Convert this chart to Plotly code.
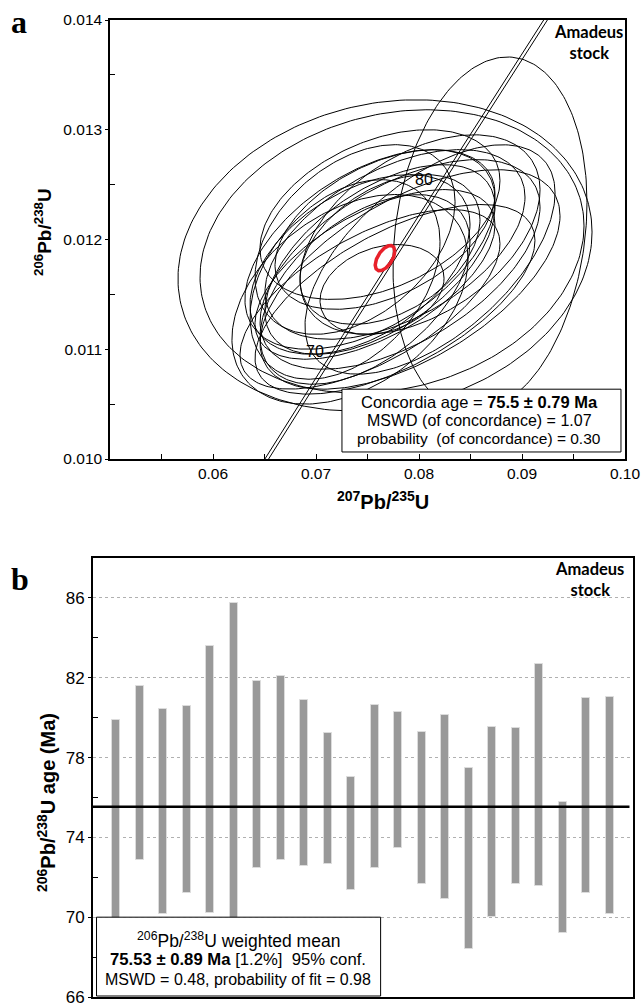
import numpy as np
import plotly.graph_objects as go

# ---------------- Panel a: concordia data (2-sigma error ellipses) ----------------
ell_x   = [0.07670, 0.07738, 0.08689, 0.07330, 0.07524, 0.07621, 0.07427, 0.07767, 0.07573, 0.07816, 0.07379,
           0.07670, 0.07913, 0.07476, 0.07718, 0.08010, 0.07282, 0.07621, 0.08107, 0.07524, 0.07641, 0.07767]
ell_sx  = [0.02010, 0.01864, 0.00942, 0.01146, 0.01214, 0.01117, 0.01068, 0.01262, 0.01165, 0.01359, 0.00971,
           0.01068, 0.01456, 0.01019, 0.00874, 0.01165, 0.00922, 0.01165, 0.01214, 0.01262, 0.00602, 0.01359]
ell_y   = [0.011855, 0.011891, 0.012045, 0.011455, 0.011909, 0.011818, 0.011773, 0.011955, 0.011682, 0.011773, 0.012000,
           0.012091, 0.011636, 0.011545, 0.011909, 0.012045, 0.011636, 0.012227, 0.011818, 0.011455, 0.011545, 0.011455]
ell_sy  = [0.001418, 0.001291, 0.001618, 0.000955, 0.000909, 0.000864, 0.000818, 0.000864, 0.000773, 0.000955, 0.000864,
           0.000727, 0.001000, 0.000864, 0.000682, 0.000909, 0.000909, 0.000773, 0.001045, 0.000818, 0.000409, 0.000864]
ell_rho = [0.15, 0.18, 0.18, 0.38, 0.50, 0.55, 0.45, 0.50, 0.58, 0.55, 0.40,
           0.45, 0.58, 0.50, 0.40, 0.45, 0.38, 0.40, 0.58, 0.62, 0.25, 0.62]

conc_x, conc_sx = 0.0767, 0.00095
conc_y, conc_sy = 0.01183, 0.000115
conc_rho = 0.55

lambda238 = 1.55125e-10
lambda235 = 9.8485e-10
concordia_age_span_ma = [62, 92]
concordia_band_dx = 0.00018
age_marks_ma = [70, 80]

# ---------------- Panel b: 206Pb/238U ages (Ma) ----------------
grain = list(range(1, 23))
age_low  = [69.6, 72.87, 70.18, 71.23, 70.20, 69.8, 72.48, 72.88, 72.58, 72.65, 71.36,
            72.45, 73.45, 71.65, 70.91, 68.42, 70.03, 71.66, 71.56, 69.22, 71.23, 70.16]
age_high = [79.90, 81.60, 80.45, 80.60, 83.60, 85.73, 81.85, 82.10, 80.89, 79.22, 77.04,
            80.64, 80.27, 79.28, 80.12, 77.46, 79.55, 79.48, 82.69, 75.76, 80.97, 81.05]
weighted_mean = 75.53


def ellipse(cx, cy, sx, sy, rho, n=240):
    t = np.linspace(0, 2 * np.pi, n)
    x = cx + sx * np.cos(t)
    y = cy + sy * (rho * np.cos(t) + np.sqrt(1 - rho ** 2) * np.sin(t))
    return x, y


fig = go.Figure()

# ellipses
ex, ey = [], []
for cx, sx, cy, sy, r in zip(ell_x, ell_sx, ell_y, ell_sy, ell_rho):
    x, y = ellipse(cx, cy, sx, sy, r)
    ex += list(x) + [None]
    ey += list(y) + [None]
fig.add_trace(go.Scatter(x=ex, y=ey, mode="lines", line=dict(color="black", width=1),
                         hoverinfo="skip", xaxis="x", yaxis="y"))

# concordia curve (double line)
ages = np.linspace(concordia_age_span_ma[0], concordia_age_span_ma[1], 300) * 1e6
cx_curve = np.exp(lambda235 * ages) - 1
cy_curve = np.exp(lambda238 * ages) - 1
for s in (-1, 1):
    fig.add_trace(go.Scatter(x=cx_curve + s * concordia_band_dx, y=cy_curve, mode="lines",
                             line=dict(color="black", width=1), hoverinfo="skip",
                             xaxis="x", yaxis="y"))

# concordia age ellipse (red)
rx, ry = ellipse(conc_x, conc_y, conc_sx, conc_sy, conc_rho)
fig.add_trace(go.Scatter(x=rx, y=ry, mode="lines", line=dict(color="#e8202a", width=3.5),
                         hoverinfo="skip", xaxis="x", yaxis="y"))

# ---------------- Panel b traces ----------------
lo = np.array(age_low)
hi = np.array(age_high)
fig.add_trace(go.Bar(x=grain, y=hi - lo, base=lo, width=0.34,
                     marker=dict(color="#999999", line=dict(color="#dcdcdc", width=1)),
                     xaxis="x2", yaxis="y2", hoverinfo="skip"))
fig.add_trace(go.Scatter(x=[0, 22.85], y=[weighted_mean, weighted_mean], mode="lines",
                         line=dict(color="black", width=2.5), xaxis="x2", yaxis="y2",
                         hoverinfo="skip"))

W, H = 642, 1006
tick_font_a = dict(family="Liberation Sans, Arial", size=15.5, color="black")
tick_font_b = dict(family="Liberation Sans, Arial", size=17, color="black")

fig.update_layout(
    width=W, height=H, margin=dict(l=0, r=0, t=0, b=0, pad=0, autoexpand=False),
    paper_bgcolor="white", plot_bgcolor="white", showlegend=False,
    xaxis=dict(domain=[110 / W, 625 / W], range=[0.05, 0.10], anchor="y", automargin=False,
               showline=True, linecolor="black", linewidth=1.5, mirror=True,
               showgrid=False, zeroline=False, ticklabeloverflow="allow",
               tickvals=[0.06, 0.07, 0.08, 0.09, 0.10], tickformat=".2f",
               ticks="inside", ticklen=5, tickcolor="black", tickfont=tick_font_a,
               minor=dict(tickvals=[0.055, 0.065, 0.075, 0.085, 0.095], ticks="inside",
                          ticklen=5, tickcolor="black", showgrid=False)),
    yaxis=dict(domain=[1 - 459 / H, 1 - 20 / H], range=[0.010, 0.014], anchor="x", automargin=False,
               showline=True, linecolor="black", linewidth=1.5, mirror=True,
               showgrid=False, zeroline=False, ticklabeloverflow="allow",
               tickvals=[0.010, 0.011, 0.012, 0.013, 0.014], tickformat=".3f",
               ticks="outside", ticklen=3, tickcolor="black", tickfont=tick_font_a,
               minor=dict(tickvals=[0.0105, 0.0115, 0.0125, 0.0135], ticks="inside",
                          ticklen=5, tickcolor="black", showgrid=False)),
    xaxis2=dict(domain=[93 / W, 633 / W], range=[0, 23], anchor="y2", automargin=False,
                showline=True, linecolor="black", linewidth=2, mirror=True,
                showgrid=False, zeroline=False, showticklabels=False, ticks=""),
    yaxis2=dict(domain=[1 - 997 / H, 1 - 558 / H], range=[66, 88], anchor="x2", automargin=False,
                showline=True, linecolor="black", linewidth=2, mirror=True,
                zeroline=False, tickvals=[66, 70, 74, 78, 82, 86], ticklabeloverflow="allow",
                showgrid=True, gridcolor="#b0b0b0", griddash="dot", gridwidth=1,
                ticks="outside", ticklen=3, tickcolor="black", tickfont=tick_font_b,
                minor=dict(tickvals=[68, 72, 76, 80, 84], ticks="inside", ticklen=5,
                           tickcolor="black", showgrid=False)),
    bargap=0,
)

# boxes
fig.add_shape(type="rect", xref="x", yref="y", x0=0.07252, x1=0.09961, y0=0.010064, y1=0.010636,
              line=dict(color="black", width=1), fillcolor="white", layer="above")
fig.add_shape(type="rect", xref="x2", yref="y2", x0=0.15, x1=12.25, y0=66.05, y1=70.0,
              line=dict(color="black", width=1), fillcolor="white", layer="above")

ann = []
sans = "Liberation Sans, Arial"
# panel letters
ann.append(dict(text="<b>a</b>", xref="paper", yref="paper", x=9 / W, y=1 - 22 / H,
                xanchor="left", yanchor="middle", showarrow=False,
                font=dict(family="Liberation Serif, Times New Roman", size=32, color="black")))
ann.append(dict(text="<b>b</b>", xref="paper", yref="paper", x=9 / W, y=1 - 579 / H,
                xanchor="left", yanchor="middle", showarrow=False,
                font=dict(family="Liberation Serif, Times New Roman", size=32, color="black")))
# axis titles
ann.append(dict(text="<b><sup>206</sup>Pb/<sup>238</sup>U</b>", xref="paper", yref="paper",
                x=43 / W, y=1 - 232 / H, textangle=-90, showarrow=False,
                xanchor="center", yanchor="middle", font=dict(family=sans, size=19, color="black")))
ann.append(dict(text="<b><sup>207</sup>Pb/<sup>235</sup>U</b>", xref="paper", yref="paper",
                x=383 / W, y=1 - 500 / H, showarrow=False,
                xanchor="center", yanchor="middle", font=dict(family=sans, size=20, color="black")))
ann.append(dict(text="<b><sup>206</sup>Pb/<sup>238</sup>U age (Ma)</b>", xref="paper", yref="paper",
                x=46 / W, y=1 - 802 / H, textangle=-90, showarrow=False,
                xanchor="center", yanchor="middle", font=dict(family=sans, size=20, color="black")))
# Amadeus stock labels
lab_font = dict(family="Lato, Open Sans", size=16.5, color="black")
ann.append(dict(text="<b>Amadeus<br>stock</b>", xref="x", yref="y", x=0.09650, y=0.013795,
                showarrow=False, xanchor="center", yanchor="middle", font=lab_font))
ann.append(dict(text="<b>Amadeus<br>stock</b>", xref="x2", yref="y2", x=21.13, y=86.9,
                showarrow=False, xanchor="center", yanchor="middle", font=lab_font))
# concordia age markers
for a in age_marks_ma:
    mx = np.exp(lambda235 * a * 1e6) - 1
    my = np.exp(lambda238 * a * 1e6) - 1
    ann.append(dict(text=str(a), xref="x", yref="y", x=mx, y=my, xshift=-15, yshift=7,
                    showarrow=False, xanchor="center", yanchor="middle",
                    font=dict(family=sans, size=16, color="black")))
# concordia result text
for txt, yy, fs in (("Concordia age = <b>75.5 ± 0.79 Ma</b>", 0.010523, 16.5),
                    ("MSWD (of concordance) = 1.07", 0.010355, 16),
                    ("probability  (of concordance) = 0.30", 0.010186, 15.5)):
    ann.append(dict(text=txt, xref="x", yref="y", x=0.08583, y=yy, showarrow=False,
                    xanchor="center", yanchor="middle",
                    font=dict(family=sans, size=fs, color="black")))
# weighted mean text
for txt, yy, fs in (("<sup>206</sup>Pb/<sup>238</sup>U weighted mean", 68.88, 17.5),
                    ("<b>75.53 ± 0.89 Ma</b> [1.2%]  95% conf.", 67.88, 16.7),
                    ("MSWD = 0.48, probability of fit = 0.98", 66.88, 16)):
    ann.append(dict(text=txt, xref="x2", yref="y2", x=6.18, y=yy, showarrow=False,
                    xanchor="center", yanchor="middle",
                    font=dict(family=sans, size=fs, color="black")))

fig.update_layout(annotations=ann)

pin_js = ("var d=document.getElementById('{plot_id}');"
          "document.documentElement.style.margin='0';document.body.style.margin='0';"
          "document.body.style.padding='0';document.body.style.overflow='hidden';"
          "d.style.position='fixed';d.style.left='0px';d.style.top='0px';")
fig.write_html("out.html", post_script=pin_js, config={"displayModeBar": False})
